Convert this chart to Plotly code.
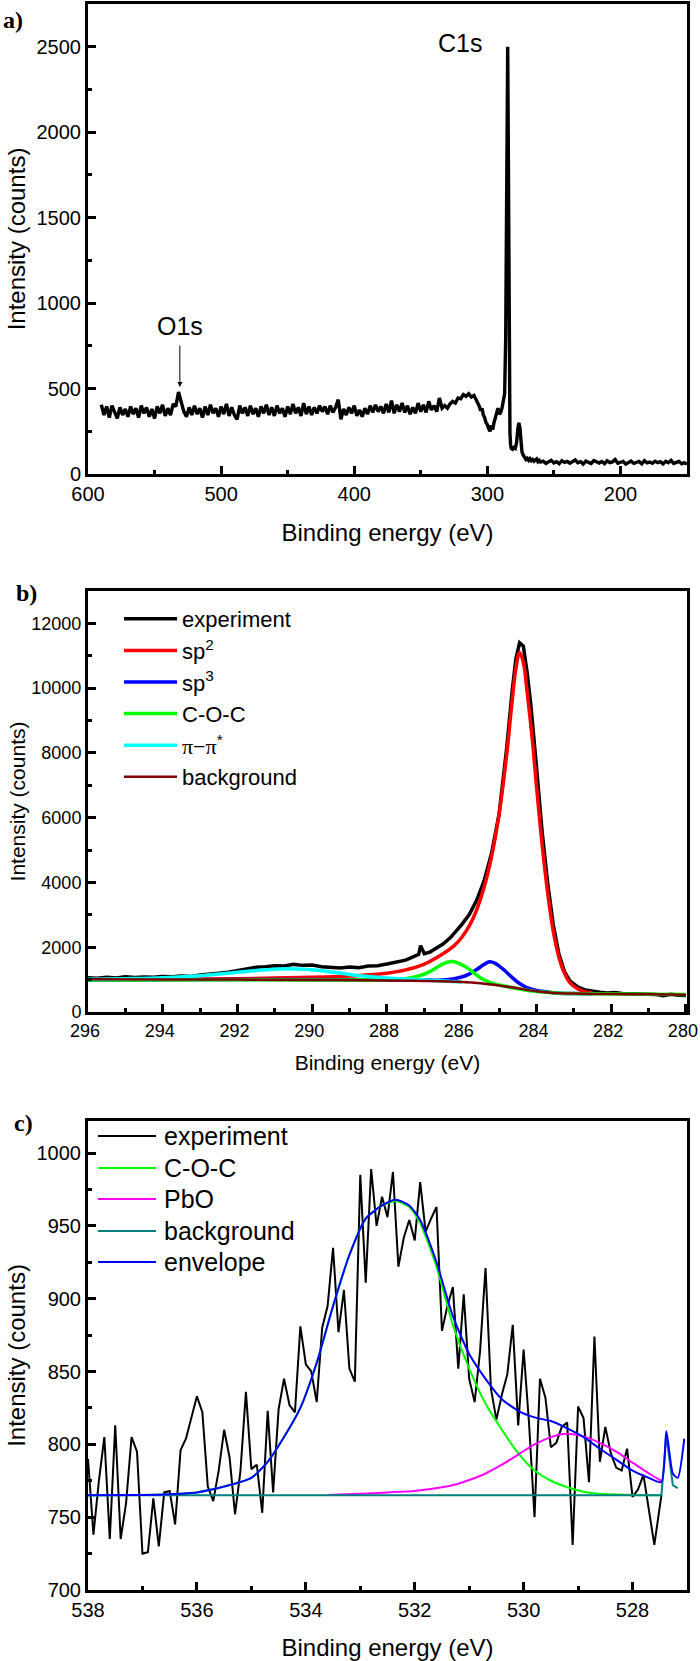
import numpy as np
import plotly.graph_objects as go

# ---------------- Panel a: survey spectrum ----------------
# segment 1: 590 -> 334 eV, 2 eV steps
a1_start, a1_stop, a1_step = 590, 334, -2
a1_counts = [
    405, 345, 395, 330, 400, 355, 325, 390, 345, 380,
    335, 395, 350, 385, 330, 400, 355, 390, 335, 380,
    325, 395, 355, 405, 340, 385, 345, 410, 395, 480,
    420, 365, 335, 390, 345, 400, 350, 385, 330, 395,
    345, 405, 355, 385, 335, 395, 350, 410, 340, 390,
    345, 320, 400, 355, 390, 340, 400, 350, 385, 335,
    395, 355, 405, 345, 390, 340, 400, 355, 385, 335,
    395, 350, 410, 355, 390, 340, 415, 350, 395, 345,
    390, 355, 400, 365, 395, 350, 400, 360, 390, 435,
    320, 380, 345, 390, 355, 400, 340, 375, 335, 385,
    350, 400, 360, 405, 365, 395, 355, 410, 360, 430,
    355, 405, 365, 415, 360, 400, 350, 390, 355, 415,
    365, 405, 360, 425, 375, 400, 365, 445, 385,
]
# segment 2: C1s region (irregular sampling)
a2_energy = [332, 330, 328, 326, 324, 322, 320, 318, 316, 314, 312, 310, 308, 306, 305,
             304, 303, 302, 301, 300, 299, 298, 297, 296, 295, 294, 293, 292, 291, 290,
             289, 288, 287, 286.2, 285.6, 285.1, 284.7, 284.3, 283.9, 283.4, 283, 282.5,
             282, 281, 280, 279, 278, 277, 276.3, 275.5, 275, 274, 273, 272, 271, 270,
             269, 268, 267, 266, 265, 264, 263, 262, 261, 260]
a2_counts = [400, 385, 410, 425, 415, 445, 440, 465, 455, 470, 450, 460, 430, 395, 370,
             385, 345, 330, 300, 290, 265, 250, 285, 260, 300, 330, 360, 385, 350, 360,
             385, 420, 470, 800, 1500, 2300, 2500, 2000, 1100, 450, 240, 170,
             150, 145, 155, 150, 185, 270, 300, 270, 200, 130, 110, 95, 85, 92,
             80, 90, 78, 85, 75, 82, 88, 72, 80, 70]
# segment 3: 258 -> 150 eV, 2 eV steps
a3_start, a3_stop, a3_step = 258, 150, -2
a3_counts = [
    75, 62, 70, 80, 65, 72, 60, 78, 68, 74,
    63, 70, 82, 66, 72, 58, 75, 68, 62, 79,
    70, 64, 73, 60, 77, 66, 71, 85, 63, 69,
    74, 58, 70, 76, 62, 68, 73, 60, 78, 65,
    70, 63, 75, 67, 72, 59, 74, 66, 80, 62,
    68, 73, 60, 66, 58,
]

# ---------------- Panel b: C1s high resolution ----------------
b_exp_energy = [296.0, 295.75, 295.5, 295.25, 295.0, 294.75, 294.5, 294.25, 294.0, 293.75,
                293.5, 293.25, 293.0, 292.75, 292.5, 292.25, 292.0, 291.75, 291.5, 291.25,
                291.0, 290.75, 290.5, 290.25, 290.0, 289.75, 289.5, 289.25, 289.0, 288.75,
                288.5, 288.25, 288.0, 287.75, 287.5, 287.3, 287.15, 287.1, 287.0, 286.85,
                286.7, 286.5, 286.3, 286.1, 286.0, 285.8, 285.6, 285.4, 285.2, 285.0,
                284.8, 284.65, 284.55, 284.45, 284.35, 284.25, 284.15, 284.0, 283.85, 283.7,
                283.55, 283.4, 283.25, 283.1, 282.9, 282.7, 282.5, 282.3, 282.1, 281.9,
                281.7, 281.5, 281.3, 281.0, 280.8, 280.6, 280.4, 280.2, 280.0]
b_exp_counts = [1060, 1040, 1075, 1050, 1090, 1065, 1080, 1070, 1095, 1085,
                1110, 1100, 1140, 1160, 1200, 1230, 1280, 1310, 1380, 1400,
                1430, 1420, 1470, 1440, 1450, 1400, 1380, 1360, 1390, 1370,
                1420, 1430, 1480, 1540, 1600, 1700, 1780, 2050, 1800, 1850,
                1950, 2100, 2300, 2550, 2700, 3000, 3450, 4050, 4900, 6100,
                8100, 9900, 10900, 11400, 11300, 10500, 9500, 7600, 5600, 4000,
                2700, 1800, 1250, 950, 780, 680, 640, 610, 590, 600,
                570, 560, 570, 555, 540, 500, 545, 520, 510]

b_sp2_energy = [296, 294, 292, 290, 289, 288.5, 288, 287.5, 287, 286.5, 286.2, 286, 285.8,
                285.6, 285.4, 285.2, 285.0, 284.8, 284.65, 284.55, 284.45, 284.35, 284.25,
                284.1, 284.0, 283.85, 283.7, 283.55, 283.4, 283.25, 283.1, 282.9, 282.7, 282.5]
b_sp2_counts = [1000, 1010, 1030, 1070, 1110, 1150, 1200, 1300, 1480, 1800, 2050, 2300, 2650,
                3150, 3850, 4800, 6100, 7900, 9600, 10600, 11100, 10800, 9900,
                8300, 7000, 5200, 3700, 2500, 1700, 1200, 900, 720, 630, 590]

b_sp3_energy = [296, 292, 290, 288, 287, 286.5, 286.2, 286.0, 285.8, 285.6, 285.4, 285.25,
                285.1, 284.9, 284.7, 284.5, 284.3, 284.1, 283.8, 283.5, 283.0, 282.5]
b_sp3_counts = [990, 1000, 1000, 990, 985, 990, 1030, 1080, 1170, 1310, 1470, 1550,
                1500, 1330, 1120, 920, 780, 700, 630, 590, 570, 565]

b_coc_energy = [296, 292, 290, 288.5, 288, 287.5, 287.2, 287.0, 286.8, 286.6, 286.4, 286.27,
                286.1, 285.9, 285.7, 285.5, 285.3, 285.1, 284.9, 284.6, 284.3, 284.0,
                283.5, 283.0, 282.5, 281.0, 280.0]
b_coc_counts = [990, 995, 990, 985, 995, 1030, 1100, 1170, 1280, 1420, 1530, 1560,
                1520, 1400, 1230, 1060, 940, 860, 810, 740, 680, 630,
                590, 570, 560, 550, 540]

b_pi_energy = [296, 295, 294, 293, 292.5, 292, 291.5, 291, 290.6, 290.2, 289.8, 289.4,
               289, 288.5, 288, 287.5, 287, 286.5, 286]
b_pi_counts = [1010, 1030, 1060, 1120, 1170, 1230, 1280, 1320, 1335, 1320, 1280, 1220,
               1160, 1100, 1050, 1020, 990, 960, 930]

b_bg_energy = [296, 294, 292, 290, 288, 287, 286, 285.5, 285, 284.5, 284, 283.5, 283, 282, 281, 280]
b_bg_counts = [1010, 1005, 1000, 990, 975, 960, 930, 890, 820, 730, 640, 590, 570, 555, 545, 535]

# ---------------- Panel c: O1s high resolution ----------------
c_exp_energy = [538.0, 537.9, 537.8, 537.7, 537.6, 537.5, 537.4, 537.3, 537.2, 537.1,
                537.0, 536.9, 536.8, 536.7, 536.6, 536.5, 536.4, 536.3, 536.2, 536.1,
                536.0, 535.9, 535.8, 535.7, 535.6, 535.5, 535.4, 535.3, 535.2, 535.1,
                535.0, 534.9, 534.8, 534.7, 534.6, 534.5, 534.4, 534.3, 534.2, 534.1,
                534.0, 533.9, 533.8, 533.7, 533.6, 533.5, 533.4, 533.3, 533.2, 533.1,
                533.0, 532.9, 532.8, 532.7, 532.6, 532.5, 532.4, 532.3, 532.2, 532.1,
                532.0, 531.9, 531.8, 531.7, 531.6, 531.5, 531.4, 531.3, 531.2, 531.1,
                531.0, 530.9, 530.8, 530.7, 530.6, 530.5, 530.4, 530.3, 530.2, 530.1,
                530.0, 529.9, 529.8, 529.7, 529.6, 529.5, 529.4, 529.3, 529.2, 529.1,
                529.0, 528.9, 528.8, 528.7, 528.6, 528.5, 528.4, 528.3, 528.2, 528.1,
                528.0, 527.9, 527.8, 527.6, 527.47]
c_exp_counts = [790, 738, 775, 805, 735, 813, 735, 760, 805, 795,
                725, 726, 763, 730, 767, 768, 745, 796, 804, 819,
                833, 822, 771, 761, 782, 810, 791, 752, 782, 836,
                783, 786, 753, 823, 767, 824, 845, 827, 822, 881,
                855, 850, 829, 880, 895, 935, 877, 906, 852, 843,
                985, 911, 989, 950, 970, 956, 987, 922, 942, 954,
                940, 980, 946, 955, 963, 878, 895, 908, 852, 903,
                845, 829, 864, 921, 838, 817, 834, 848, 882, 813,
                865, 814, 750, 845, 832, 798, 801, 812, 815, 731,
                826, 818, 774, 874, 788, 812, 794, 784, 782, 797,
                764, 769, 779, 731, 765]

c_coc_energy = [538.0, 537.0, 536.5, 536.0, 535.5, 535.0, 534.7, 534.4, 534.1, 533.8, 533.5,
                533.2, 532.9, 532.6, 532.35, 532.1, 531.9, 531.6, 531.3, 531.0, 530.7,
                530.4, 530.1, 529.8, 529.5, 529.2, 528.9, 528.6, 528.3, 528.0, 527.47]
c_coc_counts = [765, 765.2, 765.8, 767, 771, 777, 788, 805, 825, 856, 895,
                930, 955, 964, 967, 963, 952, 922, 882, 852, 828,
                810, 794, 782, 775, 770.5, 767.5, 766, 765.5, 765.2, 765]

c_pbo_energy = [533.6, 533.0, 532.5, 532.0, 531.5, 531.2, 531.0, 530.7, 530.4, 530.1, 529.8,
                529.5, 529.3, 529.1, 528.9, 528.6, 528.3, 528.0, 527.7, 527.47]
c_pbo_counts = [765.3, 766, 767, 768, 770.5, 773, 775.5, 780, 786, 793, 800,
                805, 807, 807, 805.5, 801, 795, 787.5, 780, 775]

c_bg_energy = [538.0, 527.47, 527.38, 527.26, 527.17]
c_bg_counts = [765, 765, 806, 772, 770]

c_env_energy = [538.0, 537.0, 536.5, 536.0, 535.5, 535.0, 534.7, 534.4, 534.1, 533.8, 533.5,
                533.2, 532.9, 532.6, 532.35, 532.1, 531.9, 531.6, 531.3, 531.0, 530.7,
                530.4, 530.1, 529.8, 529.5, 529.2, 528.9, 528.6, 528.3, 528.0, 527.7,
                527.47, 527.38, 527.26, 527.17, 527.05]
c_env_counts = [765, 765.2, 765.8, 767, 771, 777, 788, 805, 825, 856, 895,
                930, 955, 964, 968, 964, 954, 925, 888, 862, 845,
                831, 823, 818.5, 816, 811, 805, 797, 789.5, 782, 777,
                774, 809, 780, 777, 804]

# ---------------- layout geometry ----------------
W, H = 700, 1661
ML, MR, MT, MB = 88, 13, 4, 71
PW = W - ML - MR
PH = H - MT - MB


def px_x(px):
    return (px - ML) / PW


def px_y(py):
    return 1 - (py - MT) / PH


FONT = "Arial, 'Liberation Sans', sans-serif"
SERIF = "'Times New Roman', 'Liberation Serif', serif"

a_energy = list(np.arange(a1_start, a1_stop - 1, a1_step)) + a2_energy + list(np.arange(a3_start, a3_stop - 1, a3_step))
a_counts = a1_counts + a2_counts + a3_counts
assert len(a_energy) == len(a_counts)
assert len(c_exp_energy) == len(c_exp_counts)

fig = go.Figure()

fig.add_trace(go.Scatter(x=a_energy, y=a_counts, mode="lines", line=dict(color="black", width=3.4),
                         showlegend=False, xaxis="x", yaxis="y"))

b_series = [
    ("experiment", b_exp_energy, b_exp_counts, "black", 3.5),
    ("sp<sup>2</sup>", b_sp2_energy, b_sp2_counts, "#ff0000", 3.5),
    ("sp<sup>3</sup>", b_sp3_energy, b_sp3_counts, "#0000ff", 3.5),
    ("C-O-C", b_coc_energy, b_coc_counts, "#00ff00", 3.5),
    ("<span style=\"font-family:'Liberation Serif'\">π−π</span><sup>*</sup>", b_pi_energy, b_pi_counts, "#00ffff", 3.5),
    ("background", b_bg_energy, b_bg_counts, "#800000", 2.5),
]
for i, (name, xs, ys, col, w) in enumerate(b_series):
    fig.add_trace(go.Scatter(x=xs, y=ys, mode="lines", name=name,
                             line=dict(color=col, width=w, shape="spline" if i > 0 else "linear"),
                             legend="legend", legendgroup="b%d" % i, xaxis="x2", yaxis="y2"))

c_series = [
    ("experiment", c_exp_energy, c_exp_counts, "black", 2),
    ("C-O-C", c_coc_energy, c_coc_counts, "#00ff00", 2),
    ("PbO", c_pbo_energy, c_pbo_counts, "#ff00ff", 2),
    ("background", c_bg_energy, c_bg_counts, "#008080", 2),
    ("envelope", c_env_energy, c_env_counts, "#0000ff", 2),
]
for i, (name, xs, ys, col, w) in enumerate(c_series):
    fig.add_trace(go.Scatter(x=xs, y=ys, mode="lines", name=name,
                             line=dict(color=col, width=w, shape="spline" if i in (1, 2, 4) else "linear",
                                       smoothing=0.6),
                             showlegend=False, xaxis="x3", yaxis="y3"))

# hand-placed legend for panel c (tighter row spacing than plotly's legend allows)
c_leg_rows = [1136, 1168, 1199, 1231, 1262]
for (name, xs, ys, col, w), ry in zip(c_series, c_leg_rows):
    fig.add_shape(type="line", xref="paper", yref="paper", x0=px_x(98), x1=px_x(156),
                  y0=px_y(ry), y1=px_y(ry), line=dict(color=col, width=w))
    fig.add_annotation(text=name, xref="paper", yref="paper", x=px_x(162), y=px_y(ry),
                       xanchor="left", yanchor="middle", showarrow=False,
                       font=dict(family=FONT, size=25, color="black"))


def xaxis(rng, dtick, mdtick, anchor, tsize, titsize, standoff, **kw):
    d = dict(range=rng, dtick=dtick, tick0=0, anchor=anchor, domain=[0, 1],
             showline=True, linewidth=3, linecolor="black", mirror=True,
             ticks="inside", ticklen=8, tickwidth=2.5, tickcolor="black",
             minor=dict(ticks="inside", ticklen=4, tickwidth=2.5, dtick=mdtick, tickcolor="black"),
             showgrid=False, zeroline=False, tickformat="d",
             tickfont=dict(family=FONT, size=tsize, color="black"),
             title=dict(text="Binding energy (eV)", font=dict(family=FONT, size=titsize, color="black"),
                        standoff=standoff))
    d.update(kw)
    return d


def yaxis(rng, dtick, mdtick, anchor, dom, tsize, titsize, standoff):
    return dict(range=rng, dtick=dtick, tick0=0, anchor=anchor, domain=dom,
                showline=True, linewidth=3, linecolor="black", mirror=True,
                ticks="inside", ticklen=8, tickwidth=2.5, tickcolor="black",
                minor=dict(ticks="inside", ticklen=4, tickwidth=2.5, dtick=mdtick, tickcolor="black"),
                showgrid=False, zeroline=False, tickformat="d",
                tickfont=dict(family=FONT, size=tsize, color="black"),
                title=dict(text="Intensity (counts)", font=dict(family=FONT, size=titsize, color="black"),
                           standoff=standoff))


fig.update_layout(
    width=W, height=H,
    margin=dict(l=ML, r=MR, t=MT, b=MB, autoexpand=False),
    paper_bgcolor="white", plot_bgcolor="white",
    xaxis=xaxis([600, 150], 100, 50, "y", 20, 24, 21),
    yaxis=yaxis([0, 2750], 500, 250, "x", [px_y(474), 1], 20, 24, 5),
    xaxis2=xaxis([296, 279.97], 2, 1, "y2", 18, 21, 16, ticklabeloverflow="allow", ticklabelshift=3),
    yaxis2=yaxis([0, 13000], 2000, 1000, "x2", [px_y(1012), px_y(591)], 18, 21, 0),
    xaxis3=xaxis([538, 527], 2, 1, "y3", 20, 24, 20),
    yaxis3=yaxis([700, 1022], 50, 25, "x3", [0, px_y(1121)], 20, 24, 5),
    legend=dict(x=px_x(119), y=px_y(598), xanchor="left", yanchor="top",
                font=dict(family=FONT, size=22, color="black"), bgcolor="rgba(0,0,0,0)",
                itemwidth=53, tracegroupgap=2, traceorder="normal"),
    showlegend=True,
)

for lab, px, py in [("a)", 13, 20), ("b)", 26, 593), ("c)", 23, 1123)]:
    fig.add_annotation(text="<b>%s</b>" % lab, x=px_x(px), y=px_y(py), xref="paper", yref="paper",
                       showarrow=False, xanchor="center", yanchor="middle",
                       font=dict(family=SERIF, size=24, color="black"))

fig.add_annotation(text="C1s", x=320.5, y=2523, xref="x", yref="y", showarrow=False,
                   font=dict(family=FONT, size=25, color="black"))
fig.add_annotation(text="O1s", x=531, y=509, xref="x", yref="y", showarrow=True,
                   ax=0, ay=-61, arrowhead=2, arrowsize=1, arrowwidth=1, arrowcolor="black",
                   startstandoff=4, font=dict(family=FONT, size=25, color="black"))

# remove the browser's default 8px page margin so the figure fills the window exactly
fig.write_html("out.html", config={"displayModeBar": False},
               post_script="document.body.style.margin='0';")
